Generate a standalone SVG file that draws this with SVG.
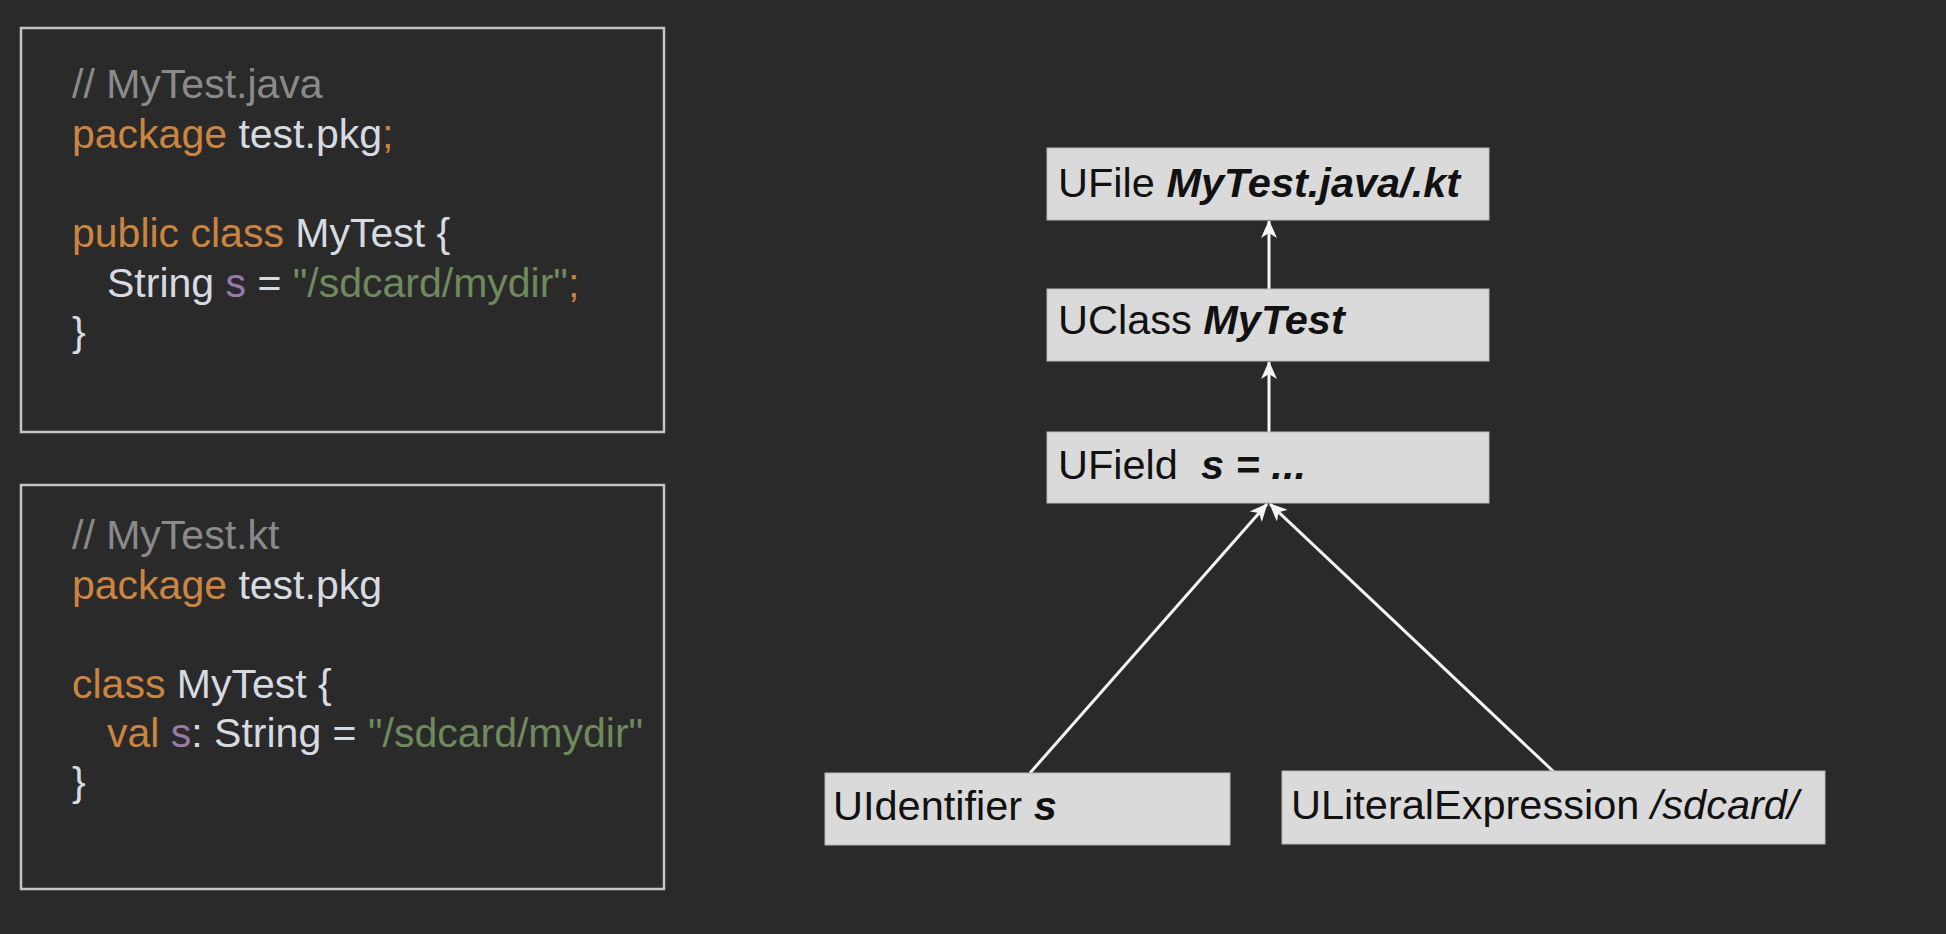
<svg xmlns="http://www.w3.org/2000/svg" width="1946" height="934" viewBox="0 0 1946 934">
<style>
.code{font-family:"Liberation Sans",Arial,sans-serif;font-size:41px;fill:#d6dbe2;}
.cm{fill:#8a8a8a;}
.kw{fill:#cc8540;}
.fd{fill:#9a78ac;}
.st{fill:#6f8a5d;}
.codebox{fill:none;stroke:#c4c4c4;stroke-width:2.5;}
.node rect{fill:#dadada;stroke:#b8b8b8;stroke-width:1;}
.node text{font-family:"Liberation Sans",Arial,sans-serif;font-size:41.5px;fill:#111;white-space:pre;}
.bi{font-weight:bold;font-style:italic;}
.it{font-style:italic;}
.conn line{stroke:#f4f4f4;stroke-width:3;marker-end:url(#arr);}
</style>
<defs>
<marker id="arr" viewBox="0 0 18 16" markerWidth="18" markerHeight="16" refX="17" refY="8" orient="auto" markerUnits="userSpaceOnUse">
<path d="M0,0 L18,8 L0,16 L5,8 z" fill="#f4f4f4"/>
</marker>
</defs>
<rect x="0" y="0" width="1946" height="934" fill="#2a2a2a"/>

<g id="java-code">
<rect class="codebox" x="21" y="28" width="643" height="404"/>
<text class="code" x="72" y="98"><tspan class="cm">// MyTest.java</tspan></text>
<text class="code" x="72" y="147.5"><tspan class="kw">package</tspan> test.pkg<tspan class="kw">;</tspan></text>
<text class="code" x="72" y="247"><tspan class="kw">public class</tspan> MyTest {</text>
<text class="code" x="107" y="297">String <tspan class="fd">s</tspan> = <tspan class="st">"/sdcard/mydir"</tspan><tspan class="kw">;</tspan></text>
<text class="code" x="72" y="346">}</text>
</g>

<g id="kotlin-code">
<rect class="codebox" x="21" y="485" width="643" height="404"/>
<text class="code" x="72" y="549"><tspan class="cm">// MyTest.kt</tspan></text>
<text class="code" x="72" y="598.5"><tspan class="kw">package</tspan> test.pkg</text>
<text class="code" x="72" y="697.5"><tspan class="kw">class</tspan> MyTest {</text>
<text class="code" x="107" y="747"><tspan class="kw">val</tspan> <tspan class="fd">s</tspan>: String = <tspan class="st">"/sdcard/mydir"</tspan></text>
<text class="code" x="72" y="796">}</text>
</g>

<g class="conn" id="connectors">
<line x1="1269" y1="289" x2="1269" y2="221"/>
<line x1="1269" y1="432" x2="1269" y2="362"/>
<line x1="1030" y1="773" x2="1267" y2="504"/>
<line x1="1554" y1="772" x2="1270" y2="504"/>
</g>

<g class="node" id="ufile">
<rect x="1047" y="148" width="442" height="72"/>
<text x="1058" y="197">UFile <tspan class="bi">MyTest.java/.kt</tspan></text>
</g>
<g class="node" id="uclass">
<rect x="1047" y="289" width="442" height="72"/>
<text x="1058" y="334">UClass <tspan class="bi">MyTest</tspan></text>
</g>
<g class="node" id="ufield">
<rect x="1047" y="432" width="442" height="71"/>
<text x="1058" y="479">UField  <tspan class="bi">s = ...</tspan></text>
</g>
<g class="node" id="uidentifier">
<rect x="825" y="773" width="405" height="72"/>
<text x="833" y="820">UIdentifier <tspan class="bi">s</tspan></text>
</g>
<g class="node" id="uliteral">
<rect x="1282" y="771" width="543" height="73"/>
<text x="1291" y="819">ULiteralExpression <tspan class="it">/sdcard/</tspan></text>
</g>
</svg>
